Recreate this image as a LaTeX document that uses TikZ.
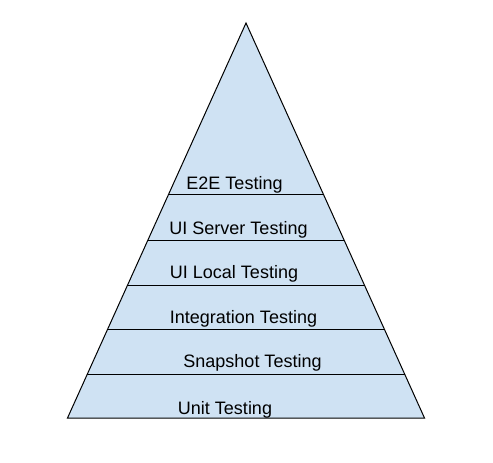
\documentclass[tikz,border=0pt]{standalone}
\usepackage{fontspec}
\setmainfont{Liberation Sans}
\usetikzlibrary{calc}
\definecolor{pyrfill}{HTML}{CFE2F3}
\tikzset{
  layerline/.style={draw=black, line width=1pt},
  layerlabel/.style={anchor=base, inner sep=0pt, font=\fontsize{18}{20}\selectfont, text=black}
}
\begin{document}
\begin{tikzpicture}[x=1pt,y=-1pt]
\useasboundingbox (0,0) rectangle (493,463);
\coordinate (apex) at (246,23);
\coordinate (bl) at (67.5,418);
\coordinate (br) at (424.5,418);
\draw[fill=pyrfill, draw=black, line width=1pt, line join=miter] (apex) -- (bl) -- (br) -- cycle;
% layer lines
\foreach \t [count=\i] in {0.4329,0.5494,0.6658,0.7772,0.8911}{
  \coordinate (l\i) at ($(apex)!\t!(bl)$);
  \coordinate (r\i) at ($(apex)!\t!(br)$);
  \draw[layerline] (l\i) -- (r\i);
}
\node[layerlabel] (e2e) at (234.5,189) {E2E Testing};
\node[layerlabel] (uiserver) at (238.5,234) {UI Server Testing};
\node[layerlabel] (uilocal) at (234,278) {UI Local Testing};
\node[layerlabel] (integ) at (243.5,323) {Integration Testing};
\node[layerlabel] (snap) at (252.5,367) {Snapshot Testing};
\node[layerlabel] (unit) at (225,414) {Unit Testing};
\end{tikzpicture}
\end{document}
